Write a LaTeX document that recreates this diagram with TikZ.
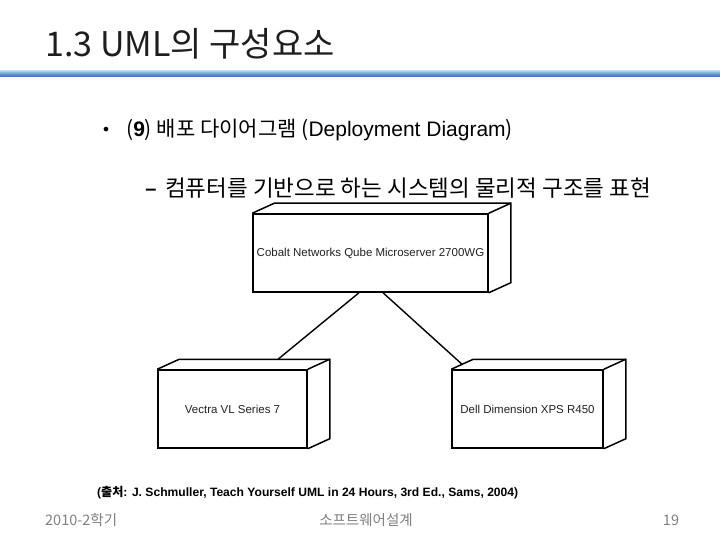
\documentclass[tikz,border=0pt]{standalone}
\usepackage{fontspec}
\setmainfont{Liberation Sans}
\newfontfamily\kr{Noto Sans CJK KR}
\newfontfamily\arial{Liberation Sans}
\newfontfamily\dejavu{DejaVu Sans}
\usetikzlibrary{calc}
\definecolor{titlecol}{HTML}{1E1E1E}
\definecolor{footcol}{HTML}{808080}
\definecolor{boxtext}{HTML}{222222}
\definecolor{barlight}{HTML}{A9CBEE}
\definecolor{barmid}{HTML}{5E92D3}
\definecolor{bardark}{HTML}{3D6BA6}
\tikzset{
  dnode/.style={draw=black, line width=1.5pt, fill=white, rectangle, inner sep=0pt,
    minimum height=78pt, font=\arial\fontsize{11.5}{13}\selectfont, text=boxtext},
  boxedge/.style={draw=black, line width=1.5pt, line join=miter},
  link/.style={draw=black, line width=1.4pt},
  foot/.style={font=\kr\fontsize{14.5}{16}\selectfont, text=footcol, inner sep=0pt}
}
\begin{document}
\begin{tikzpicture}[x=1pt,y=-1pt]
\useasboundingbox (0,0) rectangle (720,540);
\fill[white] (0,0) rectangle (720,540);
% title
\node[anchor=base west, inner sep=0pt, text=titlecol, font=\kr\fontsize{34}{38}\selectfont] (title) at (45,57) {1.3 UML의 구성요소};
% bar
\shade[top color=barlight, bottom color=bardark, middle color=barmid] (0,71) rectangle (720,77);
% bullet
\node[anchor=center, inner sep=0pt, font=\dejavu\fontsize{16}{18}\selectfont] (bul) at (106,131) {•};
\node[anchor=west, inner sep=0pt, font=\kr\fontsize{21}{24}\selectfont] (b1) at (126,130)
  {(\textbf{\arial 9}) 배포 다이어그램 ({\arial Deployment Diagram})};
\node[anchor=base, inner sep=0pt, font=\arial\bfseries\fontsize{20}{22}\selectfont] (dash) at (151,196) {–};
\node[anchor=west, inner sep=0pt, font=\kr\fontsize{22.5}{26}\selectfont] (b2) at (165,188)
  {컴퓨터를 기반으로 하는 시스템의 물리적 구조를 표현};
% nodes
\node[dnode, minimum width=235pt] (srv) at (370.5,253) {Cobalt Networks Qube Microserver 2700WG};
\node[dnode, minimum width=149pt] (vec) at (232.5,409) {Vectra VL Series 7};
\node[dnode, minimum width=151pt] (dell) at (527.5,409) {Dell Dimension XPS R450};
\foreach \n in {srv,vec,dell}{
  \draw[boxedge] (\n.north west) -- ++(22,-10) -- ([shift={(22,-10)}]\n.north east)
      -- ([shift={(22,-10)}]\n.south east) -- (\n.south east);
  \draw[boxedge] (\n.north east) -- ([shift={(22,-10)}]\n.north east);
}
% links
\draw[link] ([xshift=-11.5pt]srv.south) -- ([shift={(45.5,-10)}]vec.north);
\draw[link] ([xshift=12.5pt]srv.south) -- ([shift={(-65.5,-5)}]dell.north);
% citation
\node[anchor=west, inner sep=0pt, font=\arial\bfseries\fontsize{12.1}{14}\selectfont] (cite) at (97,493)
  {({\kr\bfseries 출처}: J. Schmuller, Teach Yourself UML in 24 Hours, 3rd Ed., Sams, 2004)};
% footer
\node[foot, anchor=west] (f1) at (45,520) {2010-2학기};
\node[foot, anchor=center] (f2) at (366,520) {소프트웨어설계};
\node[foot, anchor=center] (f3) at (671,520) {19};
\end{tikzpicture}
\end{document}
